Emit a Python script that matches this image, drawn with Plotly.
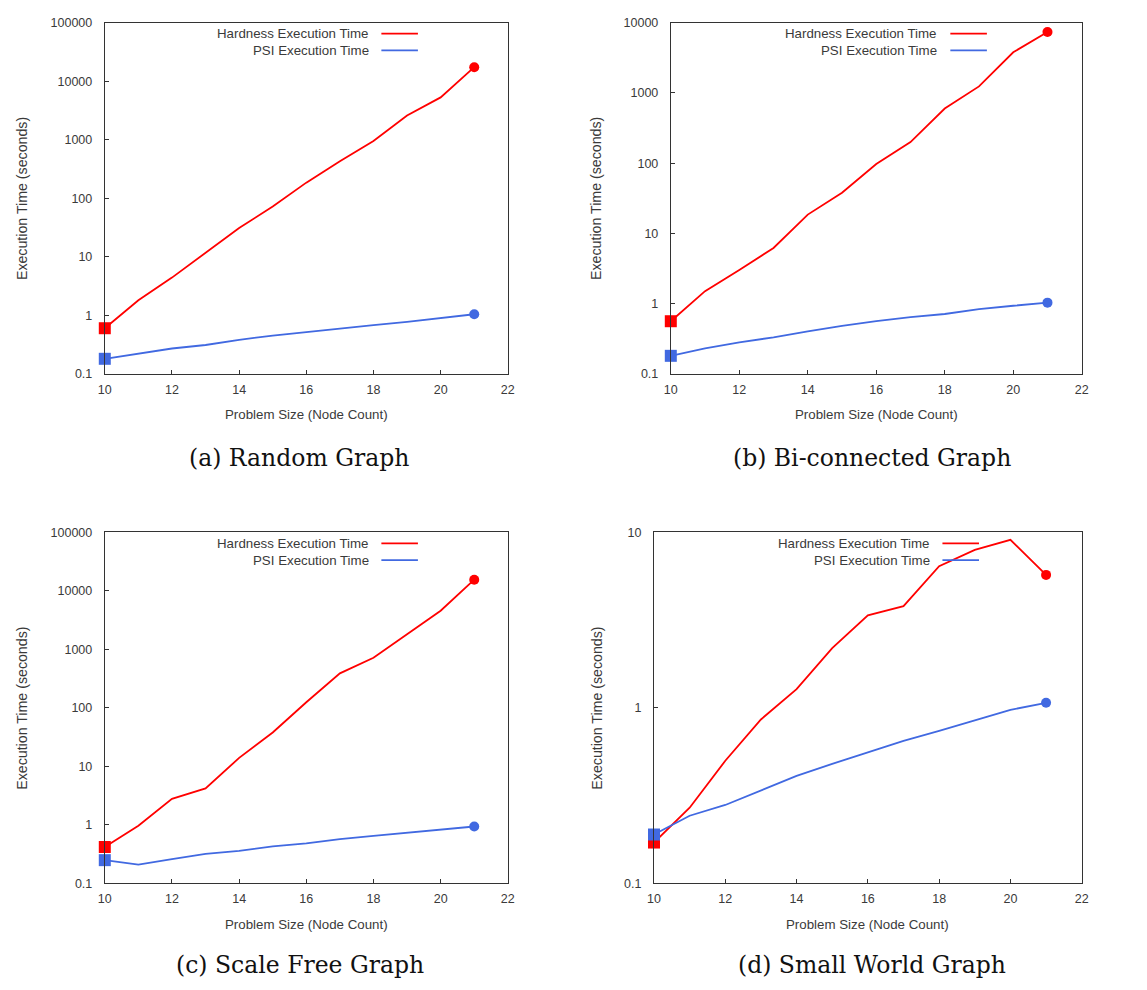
import plotly.graph_objects as go

# Problem sizes (node counts)
node_count = [10, 11, 12, 13, 14, 15, 16, 17, 18, 19, 20, 21]

# Execution times in seconds for each graph family
random_hardness = [0.6, 1.8, 4.4, 11.5, 31, 72, 185, 430, 950, 2600, 5300, 17400]
random_psi = [0.18, 0.22, 0.27, 0.31, 0.38, 0.45, 0.52, 0.59, 0.68, 0.77, 0.89, 1.04]

biconn_hardness = [0.56, 1.5, 3.0, 6.2, 18.5, 38, 97, 200, 600, 1240, 3800, 7400]
biconn_psi = [0.18, 0.23, 0.28, 0.33, 0.40, 0.48, 0.56, 0.64, 0.71, 0.83, 0.93, 1.03]

scalefree_hardness = [0.42, 0.97, 2.8, 4.2, 14, 38, 125, 390, 720, 1850, 4600, 15600]
scalefree_psi = [0.25, 0.21, 0.26, 0.32, 0.36, 0.43, 0.485, 0.57, 0.65, 0.73, 0.83, 0.94]

smallworld_hardness = [0.171, 0.27, 0.50, 0.86, 1.28, 2.19, 3.37, 3.8, 6.43, 7.95, 9.08, 5.73]
smallworld_psi = [0.19, 0.243, 0.28, 0.34, 0.41, 0.48, 0.56, 0.65, 0.74, 0.85, 0.975, 1.07]

x_ticks = [10, 12, 14, 16, 18, 20, 22]
y_ticks_wide = [0.1, 1, 10, 100, 1000, 10000, 100000]
y_tick_text_wide = ["0.1", "1", "10", "100", "1000", "10000", "100000"]

series_names = ["Hardness Execution Time", "PSI Execution Time"]
captions = ["(a) Random Graph", "(b) Bi-connected Graph",
            "(c) Scale Free Graph", "(d) Small World Graph"]
x_title = "Problem Size (Node Count)"
y_title = "Execution Time (seconds)"

W, H = 1147, 990
RED = "#ff0000"
BLUE = "#4169e1"
TEXT = "#3a3a3a"
FRAME = "#333333"
SANS = "Liberation Sans, Arial, sans-serif"
SERIF = "DejaVu Serif, serif"


def px(x):
    return x / W


def py(y):
    return 1 - y / H


panels = [
    dict(hard=random_hardness, psi=random_psi, ymax_exp=5,
         box=(99, 507, 16, 372), ytitle_x=15, legend_right=368, legend_y=27,
         xtitle_y=413, caption=(296, 457)),
    dict(hard=biconn_hardness, psi=biconn_psi, ymax_exp=4,
         box=(672, 1088, 16, 372), ytitle_x=597, legend_right=944, legend_y=27,
         xtitle_y=413, caption=(876, 457)),
    dict(hard=scalefree_hardness, psi=scalefree_psi, ymax_exp=5,
         box=(99, 507, 533, 889), ytitle_x=15, legend_right=368, legend_y=544,
         xtitle_y=931, caption=(297, 972)),
    dict(hard=smallworld_hardness, psi=smallworld_psi, ymax_exp=1,
         box=(655, 1088, 533, 889), ytitle_x=597, legend_right=936, legend_y=544,
         xtitle_y=931, caption=(876, 972)),
]

fig = go.Figure()
annotations = []
shapes = []

for i, p in enumerate(panels, start=1):
    xa = "x" if i == 1 else f"x{i}"
    ya = "y" if i == 1 else f"y{i}"
    x0, x1, y0, y1 = p["box"]

    # lines
    for vals, color in ((p["hard"], RED), (p["psi"], BLUE)):
        fig.add_trace(go.Scatter(
            x=node_count, y=vals, mode="lines",
            line=dict(color=color, width=1.8),
            xaxis=xa, yaxis=ya, showlegend=False, hoverinfo="x+y"))
    # end-point markers: square at the first size, circle at the last
    for vals, color in ((p["hard"], RED), (p["psi"], BLUE)):
        fig.add_trace(go.Scatter(
            x=[node_count[0], node_count[-1]], y=[vals[0], vals[-1]],
            mode="markers",
            marker=dict(color=color, symbol=["square", "circle"], size=[12, 10],
                        opacity=1, line=dict(width=0)),
            cliponaxis=False,
            xaxis=xa, yaxis=ya, showlegend=False, hoverinfo="x+y"))

    n = p["ymax_exp"] + 2
    ax_common = dict(showgrid=False, zeroline=False, showline=True, mirror=True,
                     linecolor=FRAME, linewidth=1, ticks="inside", ticklen=4,
                     tickcolor=FRAME, tickwidth=1,
                     tickfont=dict(family=SANS, size=12.5, color=TEXT))
    fig.update_layout(**{
        ("xaxis" if i == 1 else f"xaxis{i}"): dict(
            domain=[px(x0), px(x1)], anchor=ya, range=[10, 22],
            tickvals=x_ticks, ticktext=[str(t) for t in x_ticks],
            ticklabelstandoff=4, **ax_common),
        ("yaxis" if i == 1 else f"yaxis{i}"): dict(
            domain=[py(y1), py(y0)], anchor=xa, type="log",
            range=[-1, p["ymax_exp"]],
            tickvals=y_ticks_wide[:n], ticktext=y_tick_text_wide[:n],
            ticklabelstandoff=9, **ax_common),
    })

    # legend: right-aligned labels with line samples to their right
    for k, (name, color) in enumerate(zip(series_names, (RED, BLUE))):
        ly = p["legend_y"] + 17 * k
        annotations.append(dict(
            x=px(p["legend_right"]), y=py(ly), xref="paper", yref="paper",
            text=name, showarrow=False, xanchor="right", yanchor="middle",
            font=dict(family=SANS, size=13.3, color=TEXT)))
        shapes.append(dict(
            type="line", xref="paper", yref="paper",
            x0=px(p["legend_right"] + 11), x1=px(p["legend_right"] + 48),
            y0=py(ly), y1=py(ly), line=dict(color=color, width=1.8)))

    # axis titles
    annotations.append(dict(
        x=px((x0 + x1) / 2), y=py(p["xtitle_y"]), xref="paper", yref="paper",
        text=x_title, showarrow=False, xanchor="center", yanchor="middle",
        font=dict(family=SANS, size=13.3, color=TEXT)))
    annotations.append(dict(
        x=px(p["ytitle_x"]), y=py((y0 + y1) / 2), xref="paper", yref="paper",
        text=y_title, showarrow=False, xanchor="center", yanchor="middle",
        textangle=-90, font=dict(family=SANS, size=14.2, color=TEXT)))
    # caption
    cx, cy = p["caption"]
    annotations.append(dict(
        x=px(cx), y=py(cy), xref="paper", yref="paper",
        text=captions[i - 1], showarrow=False, xanchor="center", yanchor="middle",
        font=dict(family=SERIF, size=23.5, color="#111111")))

fig.update_layout(
    width=W, height=H,
    margin=dict(l=0, r=0, t=0, b=0),
    paper_bgcolor="white", plot_bgcolor="white",
    showlegend=False,
    annotations=annotations, shapes=shapes,
)

# the figure fills the page exactly, so drop the default body margin
fig.write_html("out.html", config={"displayModeBar": False},
               post_script="document.body.style.margin='0';")
